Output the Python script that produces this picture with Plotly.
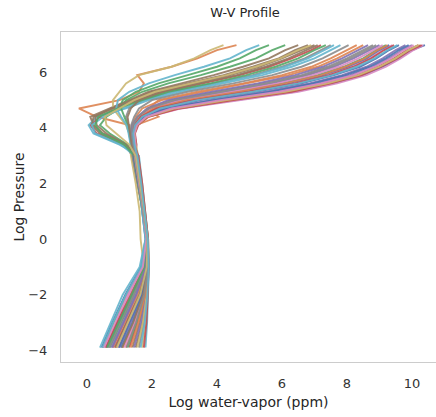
import plotly.graph_objects as go

# Log pressure levels shared by all profiles
log_pressure = [-3.9, -3.0, -2.0, -1.0, 0.0, 1.0, 2.0, 3.0, 3.4, 3.8, 4.1,
                4.4, 4.7, 5.0, 5.3, 5.6, 5.9, 6.2, 6.5, 6.8, 6.98]

# Log water-vapor (ppm) profiles
wv01 = [0.45,0.78,1.18,1.66,1.80,1.70,1.60,1.45,1.50,1.46,1.56,1.86,2.80,4.60,6.40,7.60,8.50,9.10,9.60,10.00,10.40]
wv02 = [1.20,1.50,1.76,1.88,1.86,1.75,1.62,1.48,1.40,1.35,1.30,0.30,-0.25,1.00,1.60,1.75,1.55,2.60,3.40,4.00,4.60]
wv03 = [0.70,1.05,1.45,1.80,1.85,1.72,1.55,1.40,1.45,1.40,1.45,1.65,2.05,3.00,4.60,6.00,7.10,7.90,8.50,8.90,9.20]
wv04 = [0.85,1.20,1.60,1.85,1.88,1.78,1.65,1.52,1.10,0.30,0.10,0.40,0.90,1.60,2.40,3.60,4.70,5.60,6.30,6.90,7.20]
wv05 = [1.00,1.35,1.70,1.85,1.83,1.70,1.58,1.42,1.48,1.44,1.52,1.80,2.50,4.00,5.80,7.10,8.10,8.80,9.30,9.70,10.00]
wv06 = [1.40,1.62,1.80,1.88,1.85,1.72,1.55,1.38,1.20,0.50,0.20,0.10,0.70,1.30,1.90,2.90,3.90,4.80,5.60,6.10,6.50]
wv07 = [0.55,0.90,1.30,1.75,1.85,1.75,1.62,1.50,1.52,1.48,1.58,1.90,2.90,4.70,6.50,7.70,8.60,9.20,9.65,10.05,10.35]
wv08 = [1.60,1.75,1.85,1.90,1.87,1.78,1.68,1.55,1.45,1.40,1.42,1.60,1.90,2.60,4.00,5.40,6.60,7.40,8.00,8.50,8.80]
wv09 = [0.90,1.30,1.60,1.75,1.65,1.62,1.50,1.35,1.35,1.30,1.20,1.00,0.80,0.80,1.00,1.20,1.60,2.60,3.30,3.80,4.20]
wv10 = [1.80,1.85,1.88,1.90,1.88,1.80,1.70,1.60,1.00,0.20,0.05,0.30,1.20,1.90,2.90,4.20,5.40,6.30,7.00,7.50,7.80]
wv11 = [0.60,0.95,1.40,1.78,1.86,1.74,1.60,1.46,1.50,1.45,1.50,1.75,2.30,3.50,5.20,6.60,7.60,8.40,8.90,9.30,9.60]
wv12 = [1.10,1.45,1.72,1.86,1.84,1.73,1.60,1.45,1.45,1.40,1.50,2.20,1.90,2.20,3.40,4.80,6.00,6.90,7.50,8.00,8.30]
wv13 = [0.50,0.82,1.22,1.70,1.82,1.72,1.58,1.44,1.25,0.70,0.40,0.60,1.00,1.10,1.50,2.20,3.10,4.00,4.70,5.20,5.60]
wv14 = [1.30,1.55,1.78,1.88,1.86,1.76,1.64,1.50,1.48,1.42,1.50,1.78,2.60,4.20,6.00,7.30,8.30,8.95,9.45,9.85,10.20]
wv15 = [0.75,1.10,1.50,1.82,1.86,1.74,1.58,1.42,1.42,1.38,1.42,1.58,1.95,2.80,4.30,5.70,6.80,7.60,8.20,8.70,9.00]
wv16 = [1.50,1.70,1.83,1.89,1.86,1.74,1.60,1.45,1.15,0.40,0.15,0.20,0.80,1.50,2.20,3.30,4.40,5.30,6.00,6.60,7.00]
wv17 = [0.95,1.28,1.66,1.84,1.86,1.76,1.62,1.48,1.46,1.42,1.48,1.70,2.20,3.20,4.90,6.30,7.40,8.10,8.70,9.10,9.40]
wv18 = [0.65,1.00,1.42,1.78,1.84,1.72,1.56,1.40,1.38,1.32,1.28,1.20,1.30,1.70,2.60,3.90,5.10,6.00,6.70,7.20,7.50]
wv19 = [1.70,1.80,1.86,1.90,1.88,1.79,1.69,1.57,1.50,1.45,1.55,1.88,2.70,4.40,6.20,7.45,8.40,9.00,9.50,9.90,10.25]
wv20 = [0.40,0.72,1.10,1.62,1.80,1.70,1.60,1.46,1.05,0.25,0.15,0.50,1.10,1.80,2.70,4.00,5.20,6.10,6.80,7.30,7.60]
wv21 = [1.05,1.40,1.72,1.86,1.84,1.72,1.60,1.44,1.44,1.40,1.46,1.68,2.10,3.10,4.75,6.15,7.25,8.00,8.60,9.00,9.30]
wv22 = [0.80,1.15,1.55,1.83,1.86,1.75,1.60,1.46,1.40,1.36,1.38,1.50,1.70,2.30,3.60,5.00,6.20,7.10,7.70,8.20,8.50]
wv23 = [1.25,1.52,1.77,1.88,1.86,1.76,1.63,1.50,1.36,1.30,1.25,1.15,1.05,1.20,1.70,2.50,3.50,4.40,5.20,5.70,6.10]
wv24 = [0.58,0.92,1.35,1.76,1.85,1.74,1.61,1.48,1.52,1.47,1.57,1.88,2.85,4.50,6.30,7.50,8.45,9.05,9.55,9.95,10.30]
wv25 = [1.45,1.66,1.82,1.89,1.86,1.75,1.62,1.47,1.47,1.43,1.50,1.72,2.40,3.80,5.50,6.85,7.85,8.60,9.10,9.50,9.80]
wv26 = [0.88,1.24,1.62,1.84,1.87,1.77,1.64,1.51,1.20,0.60,0.30,0.25,0.75,1.40,2.00,3.10,4.20,5.10,5.90,6.40,6.80]
wv27 = [1.15,1.47,1.74,1.87,1.85,1.74,1.61,1.46,1.43,1.39,1.44,1.62,2.00,2.90,4.45,5.85,6.95,7.75,8.35,8.80,9.10]
wv28 = [0.68,1.02,1.44,1.79,1.85,1.73,1.57,1.41,1.40,1.35,1.36,1.45,1.60,2.00,3.10,4.50,5.70,6.60,7.25,7.75,8.05]
wv29 = [1.55,1.72,1.84,1.89,1.87,1.77,1.66,1.53,1.50,1.46,1.54,1.84,2.70,4.30,6.10,7.40,8.35,9.00,9.50,9.90,10.20]
wv30 = [0.48,0.80,1.20,1.68,1.81,1.71,1.59,1.45,1.34,1.28,1.22,1.05,0.90,0.95,1.30,1.90,2.70,3.60,4.40,4.90,5.30]
wv31 = [0.98,1.32,1.68,1.85,1.85,1.73,1.59,1.43,1.47,1.43,1.51,1.76,2.45,3.90,5.65,6.95,7.95,8.70,9.20,9.60,9.90]
wv32 = [1.35,1.58,1.79,1.88,1.86,1.76,1.63,1.49,1.44,1.40,1.45,1.64,2.05,3.05,4.70,6.10,7.20,7.95,8.55,8.95,9.25]
wv33 = [0.62,0.97,1.38,1.77,1.85,1.73,1.59,1.45,1.15,0.45,0.25,0.35,0.95,1.70,2.50,3.80,4.90,5.80,6.50,7.00,7.35]
wv34 = [1.75,1.83,1.87,1.90,1.88,1.80,1.70,1.58,1.45,1.41,1.46,1.66,2.15,3.30,5.00,6.40,7.45,8.20,8.75,9.15,9.45]
wv35 = [0.78,1.12,1.52,1.82,1.86,1.75,1.61,1.47,1.41,1.37,1.40,1.55,1.85,2.50,3.85,5.25,6.40,7.25,7.85,8.35,8.65]
wv36 = [1.08,1.42,1.73,1.86,1.85,1.74,1.60,1.46,1.37,1.32,1.28,1.25,1.35,1.60,2.30,3.40,4.60,5.50,6.20,6.75,7.10]
wv37 = [0.52,0.86,1.26,1.72,1.83,1.73,1.60,1.47,1.49,1.45,1.53,1.82,2.60,4.10,5.90,7.20,8.20,8.85,9.35,9.75,10.05]
wv38 = [1.22,1.51,1.76,1.88,1.86,1.75,1.62,1.48,1.42,1.38,1.41,1.56,1.90,2.70,4.15,5.55,6.70,7.50,8.10,8.60,8.90]
wv39 = [0.92,1.26,1.64,1.84,1.86,1.76,1.63,1.50,1.30,0.90,0.60,0.55,1.00,1.45,2.10,3.20,4.30,5.20,5.95,6.50,6.90]
wv40 = [1.65,1.78,1.86,1.90,1.87,1.78,1.67,1.55,1.46,1.42,1.48,1.70,2.25,3.40,5.10,6.50,7.55,8.30,8.85,9.25,9.55]

profiles = [wv01, wv02, wv03, wv04, wv05, wv06, wv07, wv08, wv09, wv10,
            wv11, wv12, wv13, wv14, wv15, wv16, wv17, wv18, wv19, wv20,
            wv21, wv22, wv23, wv24, wv25, wv26, wv27, wv28, wv29, wv30,
            wv31, wv32, wv33, wv34, wv35, wv36, wv37, wv38, wv39, wv40]

palette = ["#4C72B0", "#DD8452", "#55A868", "#C44E52", "#8172B3",
           "#937860", "#DA8BC3", "#8C8C8C", "#CCB974", "#64B5CD"]

x_ticks = [0, 2, 4, 6, 8, 10]
y_ticks = [-4, -2, 0, 2, 4, 6]

fig = go.Figure()
for i, wv in enumerate(profiles):
    fig.add_trace(go.Scatter(x=wv, y=log_pressure, mode="lines",
                             line=dict(color=palette[i % 10], width=1.9),
                             opacity=0.9, showlegend=False, hoverinfo="skip"))

hfont = "DejaVu Sans"
fig.update_layout(
    width=436, height=417,
    margin=dict(l=61, r=0, t=32, b=55),
    paper_bgcolor="white", plot_bgcolor="white",
    title=dict(text="W-V Profile", x=245 / 436, xanchor="center",
               y=1 - 12 / 417, yanchor="middle",
               font=dict(family=hfont, size=13, color="#262626")),
    xaxis=dict(range=[-0.8, 10.74], tickvals=x_ticks, showgrid=False, zeroline=False,
               showline=True, linecolor="#cccccc", linewidth=1.2, mirror=True,
               ticks="", ticklabelstandoff=9,
               tickfont=dict(family=hfont, size=13, color="#333333"),
               title=dict(text="Log water-vapor (ppm)", standoff=7,
                          font=dict(family=hfont, size=14, color="#262626"))),
    yaxis=dict(range=[-4.42, 7.45], tickvals=y_ticks, showgrid=False, zeroline=False,
               showline=True, linecolor="#cccccc", linewidth=1.2,
               ticks="", ticklabelstandoff=10,
               tickfont=dict(family=hfont, size=13, color="#333333"),
               title=dict(text="Log Pressure", standoff=0,
                          font=dict(family=hfont, size=14, color="#262626"))),
)

fig.write_html("out.html")
